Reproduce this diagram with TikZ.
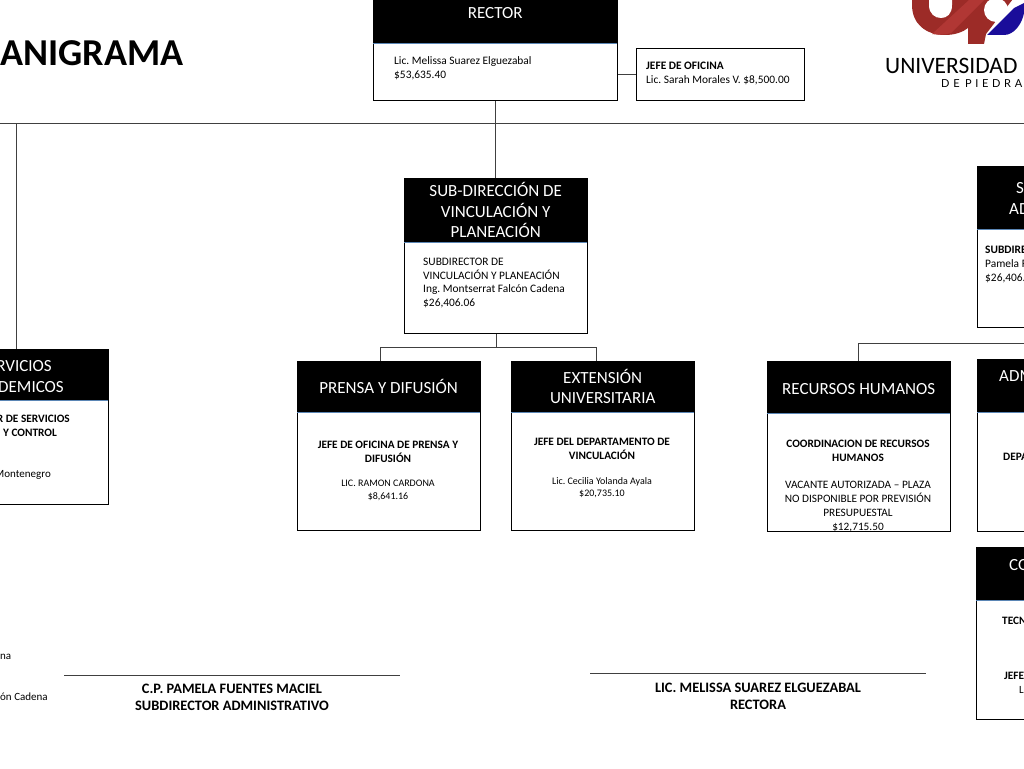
\documentclass[tikz,border=0pt]{standalone}
\usepackage{fontspec}
\setmainfont{Carlito}
\newfontfamily\logofont{Lato}
\usetikzlibrary{positioning}
\definecolor{logodark}{HTML}{9C2B27}
\definecolor{logolight}{HTML}{B13734}
\definecolor{logoblue}{HTML}{1A0D9A}
\definecolor{rulecol}{HTML}{5B86B5}

\tikzset{
	headbox/.style={fill=black, text=white, anchor=north west, inner sep=0pt, align=center, font=\fontsize{17}{20.5}\selectfont},
	bodybox/.style={draw=black, line width=1.4pt, fill=white, anchor=north west, inner sep=0pt},
	bodytext/.style={inner sep=0pt, align=center, font=\fontsize{11.3}{14}\selectfont},
	lefttext/.style={inner sep=0pt, align=left, anchor=west, font=\fontsize{11.4}{13.9}\selectfont},
	edgetext/.style={inner sep=0pt, anchor=west, font=\fontsize{11}{14}\selectfont},
	edgebold/.style={inner sep=0pt, anchor=west, font=\fontsize{11.3}{14}\selectfont\bfseries},
	headrule/.style={draw=rulecol, line width=0.9pt},
	conn/.style={draw=black!75, line width=0.9pt},
	signline/.style={draw=black!75, line width=1pt},
	signtext/.style={inner sep=0pt, align=center, font=\fontsize{14.4}{17}\selectfont\bfseries},
}

\begin{document}
\frenchspacing
\begin{tikzpicture}[x=1pt, y=-1pt]
	\useasboundingbox (0,0) rectangle (1024,768);
	\clip (0,0) rectangle (1024,768);

	% title and logo
	\node[inner sep=0pt, anchor=west, font=\fontsize{38}{40}\selectfont\bfseries] (title) at (0,53) {ANIGRAMA};
	\fill[logodark] (912,-5) -- (912,5) .. controls (912,24) and (926,35) .. (945,35) .. controls (955,35) and (963,32) .. (968,28) -- (968,44) -- (984,44) -- (986,34) -- (1016,-5) -- cycle;
	\fill[white] (929,-5) -- (929,5) .. controls (929,14) and (935,18) .. (941,18) .. controls (947,18) and (952,14) .. (952,5) -- (952,-5) -- cycle;
	\fill[logolight] (932,34) .. controls (938,35) and (946,35) .. (951,33) -- (984,0) -- (969,0) -- cycle;
	\fill[white] (996,10) circle (12);
	\fill[logoblue] (987,35) -- (1014,8) -- (1024,3) -- (1024,13) .. controls (1022,24) and (1014,35) .. (1004,35) -- cycle;
	\node[inner sep=0pt, anchor=west, font=\fontsize{23.5}{26}\selectfont] (logoname) at (885,65.5) {UNIVERSIDAD};
	\node[inner sep=0pt, anchor=west, font=\fontsize{11}{13}\logofont] (logosub) at (941,84) {D\,\,E\,\,\,P\,\,I\,\,E\,\,D\,\,R\,\,A};

	% rector row
	\node[bodybox, minimum width=244pt, minimum height=120pt] (rectorbody) at (373,-20) {};
	\node[headbox, minimum width=244pt, minimum height=63pt] (rector) at (373,-20) {\rule{0pt}{12.8pt}RECTOR};
	\draw[headrule] (rector.south west) -- (rector.south east);
	\node[lefttext] (rectortext) at (394,68) {Lic. Melissa Suarez Elguezabal\\\$53,635.40};
	\node[bodybox, minimum width=168pt, minimum height=52pt] (jefe) at (636,48) {};
	\node[lefttext] (jefetext) at (646,73.5) {\textbf{JEFE DE OFICINA}\\Lic. Sarah Morales V. \$8,500.00};

	% sub-direccion de vinculacion
	\node[bodybox, minimum width=183pt, minimum height=155pt] (vincbody) at (404,178) {};
	\node[headbox, minimum width=183pt, minimum height=64pt] (vinc) at (404,178) {SUB-DIRECCIÓN DE\\VINCULACIÓN Y\\PLANEACIÓN};
	\draw[headrule] (vinc.south west) -- (vinc.south east);
	\node[lefttext] (vinctext) at (423,283) {SUBDIRECTOR DE\\VINCULACIÓN Y PLANEACIÓN\\Ing. Montserrat Falcón Cadena\\\$26,406.06};

	\node[bodybox, minimum width=183pt, minimum height=169pt] (prensabody) at (297,361) {};
	\node[headbox, minimum width=183pt, minimum height=51pt] (prensa) at (297,361) {PRENSA Y DIFUSIÓN};
	\draw[headrule] (prensa.south west) -- (prensa.south east);
	\node[bodytext] (prensatext) at (388,470.5) {\textbf{JEFE DE OFICINA DE PRENSA Y}\\\textbf{DIFUSIÓN}\\[10pt]{\fontsize{10}{12.5}\selectfont LIC. RAMON CARDONA}\\[-1pt]{\fontsize{10}{12.5}\selectfont \$8,641.16}};

	\node[bodybox, minimum width=183pt, minimum height=169pt] (extensionbody) at (511,361) {};
	\node[headbox, minimum width=183pt, minimum height=51pt] (extension) at (511,361) {EXTENSIÓN\\UNIVERSITARIA};
	\draw[headrule] (extension.south west) -- (extension.south east);
	\node[bodytext] (extensiontext) at (602,468) {\textbf{JEFE DEL DEPARTAMENTO DE}\\\textbf{VINCULACIÓN}\\[11pt]{\fontsize{10}{12.5}\selectfont Lic. Cecilia Yolanda Ayala}\\[-1.5pt]{\fontsize{10}{12.5}\selectfont \$20,735.10}};

	\node[bodybox, minimum width=183pt, minimum height=170pt] (recursosbody) at (767,361) {};
	\node[headbox, minimum width=183pt, minimum height=52pt] (recursos) at (767,361) {\rule{0pt}{14pt}RECURSOS HUMANOS};
	\draw[headrule] (recursos.south west) -- (recursos.south east);
	\node[bodytext] (recursostext) at (858,486.5) {\textbf{COORDINACION DE RECURSOS}\\\textbf{HUMANOS}\\[13pt]VACANTE AUTORIZADA -- PLAZA\\NO DISPONIBLE POR PREVISIÓN\\PRESUPUESTAL\\\$12,715.50};

	% servicios, cut by the left edge
	\node[bodybox, minimum width=128pt, minimum height=155pt] (serviciosbody) at (-20,349) {};
	\node[headbox, minimum width=128pt, minimum height=51pt] (servicios) at (-20,349) {};
	\draw[headrule] (servicios.south west) -- (servicios.south east);
	\node[headbox, anchor=east] (serviciosa) at (52,366) {RVICIOS};
	\node[headbox, anchor=east] (serviciosb) at (64,387) {DEMICOS};
	\node[edgebold, anchor=east] (serviciostexta) at (70,419) {R DE SERVICIOS};
	\node[edgebold, anchor=east] (serviciostextb) at (57,433) {Y CONTROL};
	\node[edgetext, anchor=east] (serviciostextc) at (51,475) {Montenegro};

	% boxes cut by the right edge
	\node[bodybox, minimum width=80pt, minimum height=161pt] (admonbody) at (977,166) {};
	\node[headbox, minimum width=80pt, minimum height=63pt] (admon) at (977,166) {};
	\draw[headrule] (admon.south west) -- (admon.south east);
	\node[headbox, anchor=west] (admona) at (1016,188) {S};
	\node[headbox, anchor=west] (admonb) at (1009,209) {AD};
	\node[lefttext] (admontext) at (985,264.5) {\textbf{SUBDIRE}\\Pamela F\\\$26,406.};

	\node[bodybox, minimum width=80pt, minimum height=172pt] (admbody) at (977,359) {};
	\node[headbox, minimum width=80pt, minimum height=53pt] (adm) at (977,359) {};
	\draw[headrule] (adm.south west) -- (adm.south east);
	\node[headbox, anchor=west] (adma) at (999,376.5) {ADM};
	\node[edgebold] (admtext) at (1003,456.5) {DEPA};

	\node[bodybox, minimum width=80pt, minimum height=172pt] (cobody) at (976,547) {};
	\node[headbox, minimum width=80pt, minimum height=53pt] (co) at (976,547) {};
	\draw[headrule] (co.south west) -- (co.south east);
	\node[headbox, anchor=west] (coa) at (1009,565.5) {CO};
	\node[edgebold] (cotexta) at (1002,621) {TECN};
	\node[edgebold] (cotextb) at (1004,675.5) {JEFE};
	\node[edgetext] (cotextc) at (1019,690) {L};

	% left edge leftovers
	\node[edgetext] (firmaa) at (0,657) {na};
	\node[edgetext] (firmab) at (0,697) {ón Cadena};

	% connectors
	\coordinate (mainleft) at (0,123);
	\coordinate (mainright) at (1024,123);
	\coordinate (mainserv) at (16.5,123);
	\coordinate (hrright) at (1024,343);
	\coordinate (vincbus) at (vincbody.south |- 0,347);
	\coordinate (busleft) at (380,347);
	\coordinate (busright) at (596,347);
	\draw[conn] (mainleft) -- (mainright);
	\draw[conn] (rectorbody.south -| vinc.north) -- (vinc.north);
	\draw[conn] (rectorbody.east |- jefe.west) -- (jefe.west);
	\draw[conn] (mainserv) -- (mainserv |- servicios.north);
	\draw[conn] (vincbody.south) -- (vincbus);
	\draw[conn] (busleft |- prensa.north) -- (busleft) -- (busright) -- (busright |- extension.north);
	\draw[conn] (recursos.north) -- (recursos.north |- hrright) -- (hrright);

	% signatures
	\coordinate (signaleft) at (64,675);
	\coordinate (signaright) at (400,675);
	\coordinate (signbleft) at (590,673);
	\coordinate (signbright) at (926,673);
	\draw[signline] (signaleft) -- (signaright);
	\draw[signline] (signbleft) -- (signbright);
	\node[signtext] (signa) at (232,697.5) {C.P. PAMELA FUENTES MACIEL\\SUBDIRECTOR ADMINISTRATIVO};
	\node[signtext] (signb) at (758,696.5) {LIC. MELISSA SUAREZ ELGUEZABAL\\RECTORA};
\end{tikzpicture}
\end{document}
